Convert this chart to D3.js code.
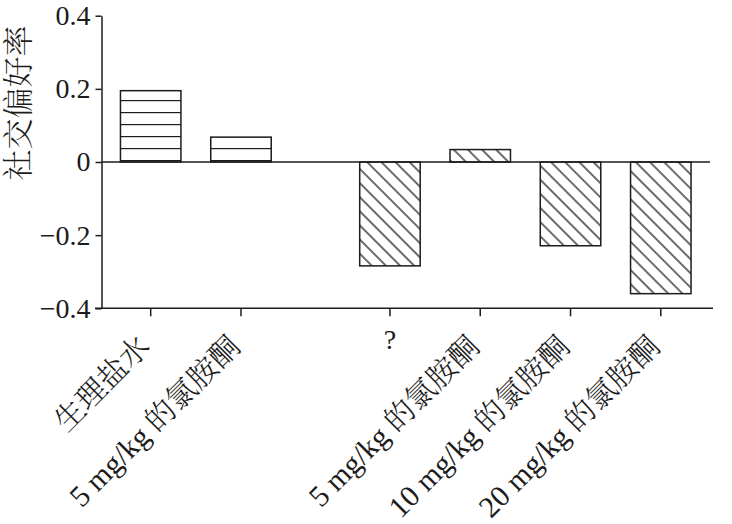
<!DOCTYPE html>
<html>
<head>
<meta charset="utf-8">
<script src="https://cdnjs.cloudflare.com/ajax/libs/d3/7.8.5/d3.min.js"></script>
<style>
    body { margin: 0; background: #fff; }
    svg { display: block; }
</style>
</head>
<body>
<svg id="chart" width="732" height="524"></svg>
<script>
// data
var categories = ["生理盐水", "5 mg/kg 的氯胺酮", "?", "5 mg/kg 的氯胺酮", "10 mg/kg 的氯胺酮", "20 mg/kg 的氯胺酮"];
var values = [0.195, 0.068, -0.284, 0.034, -0.229, -0.36];
var groups = ["saline", "saline", "ketamine", "ketamine", "ketamine", "ketamine"];
var yTicks = [-0.4, -0.2, 0, 0.2, 0.4];
var yTickLabels = ["\u22120.4", "\u22120.2", "0", "0.2", "0.4"];
var yTitle = "社交偏好率";

var ink = "#1c1c1c";
var fontFamily = "'Liberation Serif', 'Noto Serif CJK SC', 'Noto Sans CJK SC', serif";

var svg = d3.select("svg#chart");

// gap between the two groups, in bar slots
var groupGap = 0.65;
function slot(i) {
    return i + (i >= 2 ? groupGap : 0);
}

var xScale = d3.scaleLinear()
    .domain([0, slot(categories.length - 1)])
    .range([150.7, 660.8]);
var slotWidth = xScale(1) - xScale(0);
var barWidth = slotWidth * 0.67;

var yScale = d3.scaleLinear()
    .domain([-0.4, 0.4])
    .range([308.3, 15.7]);

var axisX = 101.5;
var axisY = yScale(-0.4);

// hatch patterns
var defs = svg.append("defs");
var horiz = defs.append("pattern")
    .attr("id", "hatch-h")
    .attr("patternUnits", "userSpaceOnUse")
    .attr("x", 0)
    .attr("y", yScale(0) - 14)
    .attr("width", 20)
    .attr("height", 12);
horiz.append("rect").attr("width", 20).attr("height", 12).attr("fill", "#fff");
horiz.append("line")
    .attr("x1", 0).attr("x2", 20)
    .attr("y1", 0).attr("y2", 0)
    .attr("stroke", ink).attr("stroke-width", 2.4);

var diag = defs.append("pattern")
    .attr("id", "hatch-d")
    .attr("patternUnits", "userSpaceOnUse")
    .attr("width", 10)
    .attr("height", 10)
    .attr("patternTransform", "rotate(45)");
diag.append("rect").attr("width", 10).attr("height", 10).attr("fill", "#fff");
diag.append("line")
    .attr("x1", 0).attr("x2", 10)
    .attr("y1", 5).attr("y2", 5)
    .attr("stroke", ink).attr("stroke-width", 1.3);

// bars
svg.append("g").attr("class", "bars")
    .selectAll("rect")
    .data(values)
    .enter()
    .append("rect")
    .attr("x", function (d, i) { return xScale(slot(i)) - barWidth / 2; })
    .attr("y", function (d) { return yScale(Math.max(d, 0)); })
    .attr("width", barWidth)
    .attr("height", function (d) { return Math.abs(yScale(d) - yScale(0)); })
    .attr("fill", function (d, i) { return groups[i] === "saline" ? "url(#hatch-h)" : "url(#hatch-d)"; })
    .attr("stroke", ink)
    .attr("stroke-width", 1.5);

// zero line
svg.append("line")
    .attr("x1", axisX).attr("x2", 710)
    .attr("y1", yScale(0)).attr("y2", yScale(0))
    .attr("stroke", ink).attr("stroke-width", 1.5);

// y axis
var yAxis = d3.axisLeft(yScale)
    .tickValues(yTicks)
    .tickFormat(function (d, i) { return yTickLabels[i]; })
    .tickSizeInner(6)
    .tickSizeOuter(0)
    .tickPadding(5);
var yGroup = svg.append("g")
    .attr("transform", "translate(" + axisX + ",0)")
    .call(yAxis);
yGroup.select(".domain").attr("stroke", ink).attr("stroke-width", 1.5);
yGroup.selectAll(".tick line").attr("stroke", ink).attr("stroke-width", 1.5);
yGroup.selectAll(".tick text")
    .attr("fill", ink)
    .style("font-family", fontFamily)
    .style("font-size", "28px");

// x axis (bottom)
svg.append("line")
    .attr("x1", 95).attr("x2", 713)
    .attr("y1", axisY).attr("y2", axisY)
    .attr("stroke", ink).attr("stroke-width", 1.5);
svg.append("g").attr("class", "xticks")
    .selectAll("line")
    .data(categories)
    .enter()
    .append("line")
    .attr("x1", function (d, i) { return xScale(slot(i)); })
    .attr("x2", function (d, i) { return xScale(slot(i)); })
    .attr("y1", axisY)
    .attr("y2", axisY + 8)
    .attr("stroke", ink).attr("stroke-width", 1.5);

// category labels, rotated except the "?" placeholder
var labels = svg.append("g").attr("class", "xlabels")
    .selectAll("text")
    .data(categories)
    .enter()
    .append("text")
    .attr("fill", ink)
    .style("font-family", fontFamily)
    .style("font-size", function (d) { return d === "?" ? "28px" : "30px"; })
    .style("font-weight", 300)
    .text(function (d) { return d; });
labels.each(function (d, i) {
    var t = d3.select(this);
    var cx = xScale(slot(i));
    if (d === "?") {
        t.attr("text-anchor", "middle")
            .attr("transform", "translate(" + cx + "," + (axisY + 41) + ")");
    } else {
        t.attr("text-anchor", "end")
            .attr("transform", "translate(" + (cx + 1) + "," + (axisY + 40) + ") rotate(-45)");
    }
});

// y title
svg.append("text")
    .attr("transform", "translate(29," + 103 + ") rotate(-90)")
    .attr("text-anchor", "middle")
    .attr("fill", ink)
    .style("font-family", fontFamily)
    .style("font-size", "31px")
    .style("font-weight", 300)
    .text(yTitle);
</script>
</body>
</html>
